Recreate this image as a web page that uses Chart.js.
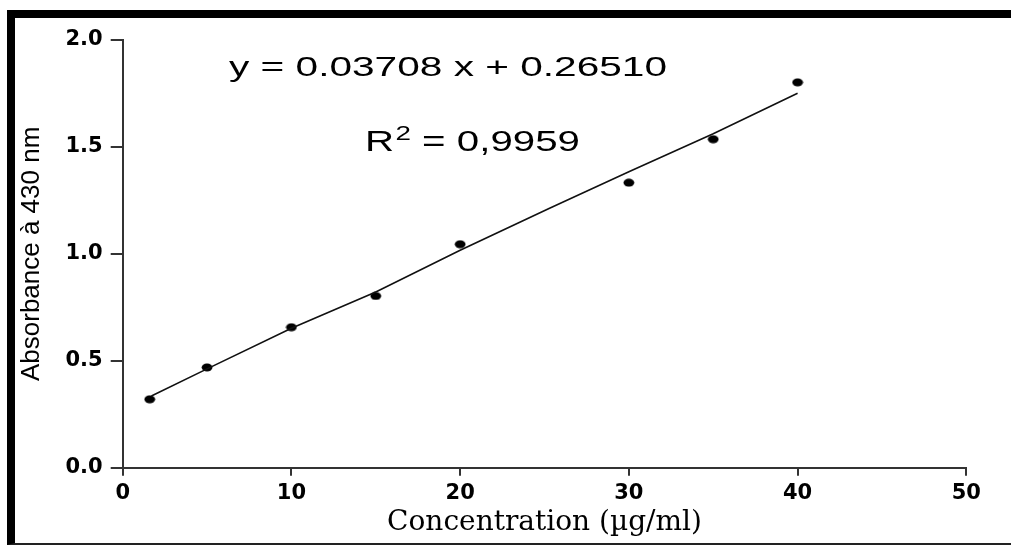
<!DOCTYPE html>
<html>
<head>
<meta charset="utf-8">
<script src="https://cdn.jsdelivr.net/npm/chart.js@4/dist/chart.umd.min.js"></script>
<style>
  html, body { margin: 0; padding: 0; background: #fff; width: 1011px; height: 547px; overflow: hidden; }
  #frame { position: absolute; left: 7px; top: 10px; width: 1004px; height: 535px; box-sizing: border-box;
           border-top: 8px solid #000; border-left: 8px solid #000; border-bottom: 2px solid #222; }
  #wrap { position: absolute; left: 0; top: 0; width: 1011px; height: 547px; }
</style>
</head>
<body>
<div id="frame"></div>
<div id="wrap"><canvas id="c"></canvas></div>
<script>
// ---- data ----
const concentrations = [1.6, 5, 10, 15, 20, 30, 35, 40];
const absorbances    = [0.320, 0.469, 0.657, 0.803, 1.045, 1.333, 1.536, 1.802];

// fitted line as drawn in the picture
const fitX = [1.7, 5, 10, 15, 20, 25.3, 30, 35, 40];
const fitY = [0.335, 0.462, 0.652, 0.822, 1.017, 1.213, 1.384, 1.562, 1.751];

const xTicks = [0, 10, 20, 30, 40, 50];
const yTicks = [0.0, 0.5, 1.0, 1.5, 2.0];

const xTitle = 'Concentration (µg/ml)';
const yTitle = 'Absorbance à 430 nm';
const equationText = 'y = 0.03708 x + 0.26510';
const r2Label = 'R';
const r2Sup = '2';
const r2Value = ' = 0,9959';

// ---- chart ----
const dot = document.createElement('canvas');
dot.width = 12; dot.height = 9;
(function () {
  const g = dot.getContext('2d');
  g.fillStyle = '#000';
  g.beginPath();
  g.ellipse(6, 4.5, 5.4, 4.0, 0, 0, Math.PI * 2);
  g.fill();
})();

const annotations = {
  id: 'annotations',
  afterDraw(chart) {
    const ctx = chart.ctx;
    ctx.save();
    ctx.fillStyle = '#000';
    ctx.textBaseline = 'alphabetic';
    ctx.textAlign = 'left';
    // equation
    ctx.font = '27px "Liberation Sans", Arial, sans-serif';
    const we = ctx.measureText(equationText).width;
    ctx.save();
    ctx.translate(229, 76);
    ctx.scale(438 / we, 1);
    ctx.fillText(equationText, 0, 0);
    ctx.restore();
    // R^2
    const big = '29px "Liberation Sans", Arial, sans-serif';
    const small = '20px "Liberation Sans", Arial, sans-serif';
    ctx.font = big; const wR = ctx.measureText(r2Label).width;
    const wV = ctx.measureText(r2Value).width;
    ctx.font = small; const wS = ctx.measureText(r2Sup).width;
    const sx = 215 / (wR + wS + wV + 1);
    ctx.save();
    ctx.translate(365, 151);
    ctx.scale(sx, 1);
    ctx.font = big; ctx.fillText(r2Label, 0, 0);
    ctx.font = small; ctx.fillText(r2Sup, wR + 1, -11);
    ctx.font = big; ctx.fillText(r2Value, wR + wS + 1, 0);
    ctx.restore();
    ctx.restore();
  }
};

const axisColor = '#333';
const tickFont = { family: '"DejaVu Sans", sans-serif', size: 21, weight: 'bold' };

new Chart(document.getElementById('c'), {
  type: 'scatter',
  data: {
    datasets: [
      {
        type: 'line',
        data: fitX.map((x, i) => ({ x, y: fitY[i] })),
        borderColor: '#111',
        borderWidth: 1.6,
        pointRadius: 0,
        tension: 0,
        fill: false
      },
      {
        data: concentrations.map((x, i) => ({ x, y: absorbances[i] })),
        pointStyle: dot,
        pointRadius: 5,
        backgroundColor: '#000',
        borderColor: '#000'
      }
    ]
  },
  options: {
    responsive: true,
    maintainAspectRatio: false,
    animation: false,
    layout: { padding: { left: 0, top: 40, right: 44.7, bottom: 0 } },
    plugins: { legend: { display: false }, tooltip: { enabled: false } },
    scales: {
      x: {
        type: 'linear',
        min: 0, max: 50,
        afterBuildTicks: s => { s.ticks = xTicks.map(v => ({ value: v })); },
        afterFit: s => { s.height = 79.3; },
        ticks: { font: tickFont, color: '#000', padding: 5, maxRotation: 0 },
        grid: { display: true, drawOnChartArea: false, drawTicks: true, tickLength: 8, color: axisColor, lineWidth: 2 },
        border: { display: true, color: axisColor, width: 2 },
        title: { display: true, text: xTitle, color: '#000',
                 font: { family: '"DejaVu Serif", serif', size: 28 }, padding: { top: 0, bottom: 7 } }
      },
      y: {
        type: 'linear',
        min: 0, max: 2,
        afterBuildTicks: s => { s.ticks = yTicks.map(v => ({ value: v })); },
        afterFit: s => { s.width = 122.7; },
        ticks: { font: tickFont, color: '#000', padding: 8, callback: v => Number(v).toFixed(1) },
        grid: { display: true, drawOnChartArea: false, drawTicks: true, tickLength: 12, color: axisColor, lineWidth: 2 },
        border: { display: true, color: axisColor, width: 2 },
        title: { display: true, text: yTitle, color: '#000',
                 font: { family: '"Liberation Sans", Arial, sans-serif', size: 26 }, padding: { top: 16, bottom: 0 } }
      }
    }
  },
  plugins: [annotations]
});
</script>
</body>
</html>
